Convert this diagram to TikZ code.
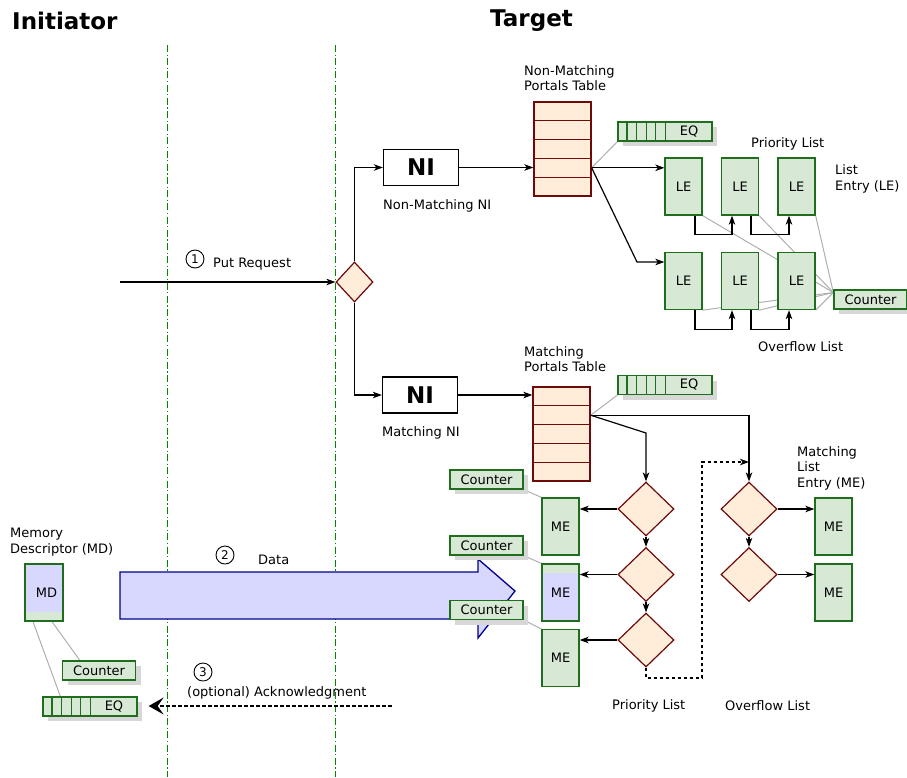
\documentclass[tikz,border=0pt]{standalone}
\usepackage{fontspec}
\setmainfont{DejaVu Sans}
\usetikzlibrary{arrows.meta,shapes.geometric,shadows,calc}
\pgfdeclarelayer{bg}
\pgfsetlayers{bg,main}
\definecolor{gfill}{RGB}{215,232,213}
\definecolor{gline}{RGB}{30,110,30}
\definecolor{ofill}{RGB}{255,236,217}
\definecolor{oline}{RGB}{110,10,10}
\definecolor{bfill}{RGB}{216,216,255}
\definecolor{bline}{RGB}{0,0,140}
\definecolor{lgray}{RGB}{175,175,175}
\definecolor{shgray}{RGB}{215,215,215}
\definecolor{ddgreen}{RGB}{0,135,0}
\newcommand{\fsn}{\fontsize{13}{15.5}\selectfont}
\begin{document}
\begin{tikzpicture}[x=1pt,y=-1pt,
  gbox/.style={draw=gline, fill=gfill, line width=1.3pt, inner sep=0pt, font=\fsn},
  lebox/.style={gbox, minimum width=37pt, minimum height=57pt},
  ctrbox/.style={gbox, minimum width=73pt, minimum height=19pt,
     drop shadow={shadow xshift=5pt, shadow yshift=-5pt, fill=shgray, opacity=1}},
  eqbox/.style={ctrbox, minimum width=94pt},
  cell/.style={draw=gline, line width=1.2pt},
  tabrow/.style={draw=oline, fill=ofill, line width=1.3pt, minimum width=57pt, minimum height=18.8pt, inner sep=0pt},
  dia/.style={diamond, draw=oline, fill=ofill, line width=1.2pt, inner sep=0pt, minimum width=56pt, minimum height=54pt},
  nibox/.style={draw=black, fill=white, line width=1.3pt, minimum width=75pt, minimum height=36pt, inner sep=0pt, font=\bfseries\fontsize{23}{25}\selectfont},
  conn/.style={draw=black, line width=1.2pt, -{Stealth[length=9pt,width=6.5pt,inset=2.5pt]}},
  dconn/.style={conn, dash pattern=on 3pt off 3pt},
  ackconn/.style={draw=black, line width=1.6pt, dash pattern=on 4pt off 2pt, -{Stealth[length=15pt,width=17pt,inset=6pt]}},
  glink/.style={draw=lgray, line width=1pt},
  lbl/.style={anchor=west, inner sep=0pt, align=left, font=\fsn},
  ttl/.style={anchor=west, inner sep=0pt, font=\bfseries\fontsize{23}{27}\selectfont},
  numc/.style={circle, draw=black, line width=0.9pt, inner sep=0pt, minimum size=18pt, font=\fontsize{12}{12}\selectfont},
  vline/.style={draw=ddgreen, line width=1pt, dash pattern=on 7pt off 2.5pt on 1.2pt off 2.5pt},
  bigarrow/.style={draw=bline, fill=bfill, line width=1.3pt, line join=miter}
]
\useasboundingbox (0,0) rectangle (907,777);

% titles
\node[ttl] (tinit) at (12,21) {Initiator};
\node[ttl] (ttarg) at (490,21) {Target};

% separator lines
\draw[vline] (167,45) -- (167,777);
\draw[vline] (335,45) -- (335,777);

% big data arrow
\draw[bigarrow] (120,572) -- (478,572) -- (478,559) -- (515,591) -- (478,638) -- (478,619) -- (120,619) -- cycle;

% NI and decision
\node[dia, minimum width=37pt, minimum height=40pt] (d0) at (354.5,282) {};
\node[nibox] (ni1) at (421,167.5) {NI};
\node[nibox] (ni2) at (420,395) {NI};
\node[lbl] (lni1) at (383,206) {Non-Matching NI};
\node[lbl] (lni2) at (382,433) {Matching NI};

% portals tables
\foreach \i in {1,...,5} \node[tabrow] (nt\i) at (562.5,{102+18.8*(\i-0.5)}) {};
\foreach \i in {1,...,5} \node[tabrow] (mt\i) at (561.5,{387+18.8*(\i-0.5)}) {};
\node[lbl] (lnt) at (524,78) {Non-Matching\\Portals Table};
\node[lbl] (lmt) at (524,359) {Matching\\Portals Table};

% EQs
\node[eqbox] (eq1) at (665,131.5) {\hspace*{48pt}EQ};
\node[eqbox] (eq2) at (665,385) {\hspace*{48pt}EQ};
\node[eqbox] (eqL) at (90,706.5) {\hspace*{48pt}EQ};
\foreach \e in {eq1,eq2,eqL}
  \foreach \i in {1,...,5}
    \draw[cell] ([xshift={\i*9.6pt}]\e.north west) -- ([xshift={\i*9.6pt}]\e.south west);

% LEs
\node[lebox] (le1) at (683.5,186.5) {LE};
\node[lebox] (le2) at (740,186.5) {LE};
\node[lebox] (le3) at (796.5,186.5) {LE};
\node[lebox] (le4) at (683.5,281) {LE};
\node[lebox] (le5) at (740,281) {LE};
\node[lebox] (le6) at (796.5,281) {LE};
\node[ctrbox] (cR) at (870.5,299.5) {Counter};
\node[lbl] (lpl1) at (751,144) {Priority List};
\node[lbl] (lle) at (835,179) {List\\Entry (LE)};
\node[lbl] (lol1) at (758,347) {Overflow List};

% matching diamonds and MEs
\node[dia] (pd1) at (646,509) {};
\node[dia] (pd2) at (646,574.5) {};
\node[dia] (pd3) at (646,640) {};
\node[dia] (od1) at (749,509) {};
\node[dia] (od2) at (749,574.5) {};
\node[lebox] (me1) at (560.5,526.5) {ME};
\node[lebox, path picture={\fill[bfill] ([yshift=-9pt]path picture bounding box.north west) rectangle (path picture bounding box.south east);}] (me2) at (560.5,592.5) {ME};
\node[lebox] (me3) at (560.5,658) {ME};
\node[lebox] (mo1) at (833.5,526.5) {ME};
\node[lebox] (mo2) at (833.5,592.5) {ME};
\node[ctrbox] (c1) at (486.5,479.5) {Counter};
\node[ctrbox] (c2) at (486.5,545.5) {Counter};
\node[ctrbox] (c3) at (486.5,610) {Counter};
\node[lbl] (lme) at (797,468) {Matching\\List\\Entry (ME)};
\node[lbl] (lpl2) at (612,706) {Priority List};
\node[lbl] (lol2) at (725,706) {Overflow List};

% initiator side
\node[lebox, minimum width=38pt, path picture={\fill[bfill] (path picture bounding box.north west) rectangle ([yshift=9pt]path picture bounding box.south east);}] (md) at (44,592.5) {\hspace*{5pt}MD};
\node[ctrbox] (cL) at (99,670.5) {Counter};
\node[lbl] (lmd) at (10,542) {Memory\\Descriptor (MD)};

% step labels
\node[numc] (n1) at (195,259) {1};
\node[lbl] (lput) at (213,264) {Put Request};
\node[numc] (n2) at (225,555) {2};
\node[lbl] (ldata) at (258,560) {Data};
\node[numc] (n3) at (203,672) {3};
\node[lbl] (lack) at (187,693) {(optional) Acknowledgment};

% connectors
\coordinate (pr) at (120,282);
\draw[conn] (pr) -- (d0.west);
\draw[conn] (d0.north) |- (ni1.west);
\draw[conn] (d0.south) |- (ni2.west);
\draw[conn] (ni1.east) -- (ni1.east -| nt4.west);
\draw[conn] (ni2.east) -- (ni2.east -| mt1.west);
\draw[conn] (nt4.east) -- (nt4.east -| le1.west);
\coordinate (b1) at (637,262);
\draw[conn] (nt4.east) -- (b1) -- (b1 -| le4.west);
\draw[conn] ([xshift=11.5pt]le1.south) -- ++(0,19) -| ([xshift=-8pt]le2.south);
\draw[conn] ([xshift=11pt]le2.south) -- ++(0,19) -| ([xshift=-7.5pt]le3.south);
\draw[conn] ([xshift=11.5pt]le4.south) -- ++(0,19) -| ([xshift=-8pt]le5.south);
\draw[conn] ([xshift=11pt]le5.south) -- ++(0,19) -| ([xshift=-7.5pt]le6.south);

\coordinate (b2) at (646,433);
\draw[conn] (mt2.east) -- (b2) -- (pd1.north);
\draw[conn] (mt2.east) -| (od1.north);
\draw[conn] (pd1.south) -- (pd2.north);
\draw[conn] (pd2.south) -- (pd3.north);
\draw[conn] (od1.south) -- (od2.north);
\draw[conn] (pd1.west) -- (pd1.west -| me1.east);
\draw[conn] (pd2.west) -- (pd2.west -| me2.east);
\draw[conn] (pd3.west) -- (pd3.west -| me3.east);
\draw[conn] (od1.east) -- (od1.east -| mo1.west);
\draw[conn] (od2.east) -- (od2.east -| mo2.west);
\coordinate (dd1) at (702,678);
\coordinate (dd2) at (702,462);
\draw[dconn] (pd3.south) |- (dd1) -- (dd2) -- (dd2 -| od1.north);

\coordinate (ack) at (392,706);
\draw[ackconn] (ack) -- ([xshift=11pt]eqL.east |- ack);

% gray association lines
\begin{pgfonlayer}{bg}
\coordinate (cc) at ([yshift=7pt]cR.west);
\draw[glink] (nt4.east) -- (eq1.south west);
\draw[glink] (mt2.east) -- (eq2.south west);
\foreach \n in {le1,le2,le3,le4,le5,le6} \draw[glink] (\n.south east) -- (cc);
\draw[glink] (c1.south east) -- (me1.north west);
\draw[glink] (c2.south east) -- (me2.north west);
\draw[glink] (c3.south east) -- (me3.north west);
\draw[glink] ([xshift=-11pt]md.south) -- ([xshift=18pt]eqL.north west);
\draw[glink] ([xshift=8pt]md.south) -- ([xshift=18pt]cL.north west);
\end{pgfonlayer}
\end{tikzpicture}
\end{document}
